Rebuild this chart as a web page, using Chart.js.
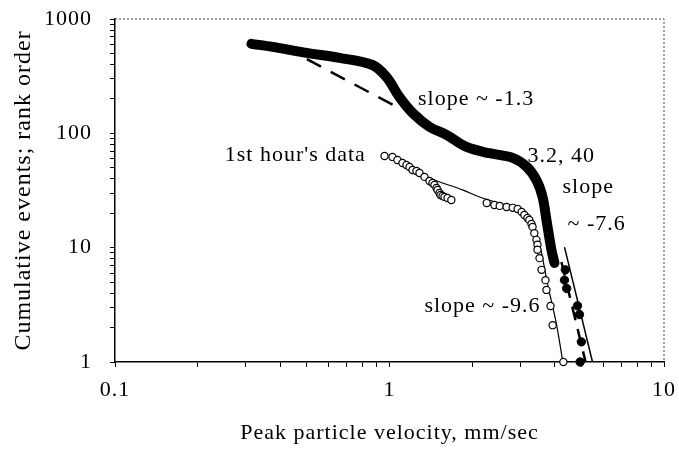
<!DOCTYPE html>
<html>
<head>
<meta charset="utf-8">
<script src="https://cdn.jsdelivr.net/npm/chart.js@4"></script>
<style>
  html, body { margin: 0; padding: 0; background: #fff; }
  #wrap { width: 679px; height: 452px; }
</style>
</head>
<body>
<div id="wrap"><canvas id="ppvChart"></canvas></div>
<script>
// all events, rank order (dense part drawn as a thick band)
let bandVel   = [0.314, 0.375, 0.499, 0.658, 0.867, 0.975, 1.087, 1.213, 1.399, 1.613, 1.908, 2.31, 2.81, 3.16, 3.43, 3.61, 3.73, 3.89, 3.99]
let bandCount = [606, 570, 505, 457, 396, 311, 208, 151, 114, 97, 76, 67, 61, 51, 39, 27.8, 17.5, 9.55, 7.35]

// all events, last few ranks
let tailVel   = [4.37, 4.34, 4.42, 4.84, 4.92, 5.0, 4.95]
let tailCount = [6.4, 5.2, 4.4, 3.1, 2.6, 1.5, 1]

// 1st hour's data
let hourVel   = [0.959, 1.025, 1.069, 1.115, 1.153, 1.183, 1.213, 1.254, 1.286, 1.341, 1.399, 1.434, 1.458, 1.483, 1.496, 1.521, 1.534, 1.560, 1.586, 1.627, 1.680,
                 2.26, 2.41, 2.52, 2.67, 2.81, 2.93, 3.03, 3.10, 3.18, 3.23, 3.29, 3.32, 3.37, 3.43, 3.46, 3.46, 3.52, 3.58, 3.70, 3.73, 3.86, 3.93, 4.30]
let hourCount = [63.4, 62.2, 58.5, 55.1, 52.9, 50.8, 47.8, 46.9, 45.0, 41.6, 38.3, 36.8, 35.4, 33.3, 32.0, 30.1, 28.9, 28.3, 27.8, 27.2, 26.1,
                 24.6, 23.6, 23.2, 22.7, 22.3, 21.8, 20.5, 19.3, 18.2, 17.5, 16.1, 15.2, 13.4, 11.7, 10.6, 9.6, 8.1, 6.4, 5.2, 4.27, 3.09, 2.1, 1]

// smooth curve through the 1st hour's data
let hourFitVel   = [1.087, 1.399, 1.845, 2.18, 2.67, 3.05, 3.29, 3.43, 3.58, 3.76, 4.05, 4.27]
let hourFitCount = [56, 40.7, 32, 27.2, 23.6, 21.4, 17.5, 13.4, 9.0, 4.9, 2.19, 1.04]

// slope lines
let slopeAVel = [0.50, 1.09],  slopeACount = [445, 165]   // ~ -1.3
let slopeBVel = [4.34, 5.49],  slopeBCount = [10.1, 1]    // ~ -7.6
let slopeCVel = [4.23, 5.18],  slopeCCount = [7.5, 1]     // dashed, tail

let notes = [
  { text: 'slope ~ -1.3',    x: 1.27, y: 177 },
  { text: "1st hour's data", x: 0.251, y: 57.3 },
  { text: '3.2, 40',         x: 3.18, y: 56 },
  { text: 'slope',           x: 4.27, y: 30.1 },
  { text: '~ -7.6',          x: 4.45, y: 14.3 },
  { text: 'slope ~ -9.6',    x: 1.34, y: 2.74 }
]

function pts(xs, ys) {
  return xs.map((x, i) => ({ x: x, y: ys[i] }))
}

const serif = '"Liberation Serif", "Times New Roman", serif'

// labels only on the decades
function decadeLabel(value) {
  let l = Math.log10(value)
  return Math.abs(l - Math.round(l)) < 1e-9 ? String(value) : ''
}

function logTicks(min, max) {
  let t = []
  for (let d = min; d < max * 0.999; d *= 10) {
    for (let m = 1; m < 10; m++) t.push({ value: +(d * m).toPrecision(6) })
  }
  t.push({ value: max })
  return t
}

const annotate = {
  id: 'annotate',
  beforeDraw(chart) {
    chart.ctx.letterSpacing = '1px'
  },
  afterDatasetsDraw(chart) {
    const c = chart.ctx, xs = chart.scales.x, ys = chart.scales.y, a = chart.chartArea
    c.save()
    c.font = '22px ' + serif
    c.fillStyle = '#000'
    c.textBaseline = 'alphabetic'
    notes.forEach(n => c.fillText(n.text, xs.getPixelForValue(n.x), ys.getPixelForValue(n.y)))
    // dotted frame on top and right
    c.strokeStyle = '#444'
    c.lineWidth = 1
    c.setLineDash([2, 2])
    c.beginPath()
    c.moveTo(a.left, a.top)
    c.lineTo(a.right, a.top)
    c.lineTo(a.right, a.bottom)
    c.stroke()
    c.restore()
  }
}

var ctx = document.getElementById('ppvChart')

new Chart(ctx, {
  type: 'scatter',
  data: {
    datasets: [{
      data: pts(hourVel, hourCount),
      backgroundColor: '#fff',
      borderColor: '#000',
      borderWidth: 1.2,
      pointRadius: 3.6,
      clip: false,
      order: 1
    }, {
      data: pts(tailVel, tailCount),
      backgroundColor: '#000',
      borderColor: '#000',
      pointRadius: 4.2,
      clip: false,
      order: 2
    }, {
      data: pts(bandVel, bandCount),
      showLine: true,
      borderColor: '#000',
      borderWidth: 10,
      borderCapStyle: 'round',
      borderJoinStyle: 'round',
      tension: 0.35,
      pointRadius: 0,
      order: 3
    }, {
      data: pts(hourFitVel, hourFitCount),
      showLine: true,
      borderColor: '#000',
      borderWidth: 1.2,
      tension: 0.35,
      pointRadius: 0,
      order: 4
    }, {
      data: pts(slopeAVel, slopeACount),
      showLine: true,
      borderColor: '#000',
      borderWidth: 2.5,
      borderDash: [16, 11],
      pointRadius: 0,
      order: 5
    }, {
      data: pts(slopeBVel, slopeBCount),
      showLine: true,
      borderColor: '#000',
      borderWidth: 1.5,
      pointRadius: 0,
      order: 5
    }, {
      data: pts(slopeCVel, slopeCCount),
      showLine: true,
      borderColor: '#000',
      borderWidth: 2.5,
      borderDash: [14, 9],
      pointRadius: 0,
      order: 5
    }]
  },
  options: {
    responsive: true,
    maintainAspectRatio: false,
    animation: false,
    events: [],
    layout: { padding: { top: 19, right: 15, left: 0, bottom: 0 } },
    plugins: {
      legend: { display: false },
      tooltip: { enabled: false }
    },
    scales: {
      x: {
        type: 'logarithmic',
        min: 0.1,
        max: 10,
        afterBuildTicks: s => { s.ticks = logTicks(0.1, 10) },
        afterFit: s => { s.height = 90; s.paddingLeft = 0; s.paddingRight = 0 },
        border: { color: '#000', width: 1.5 },
        grid: { drawOnChartArea: false, color: '#000', tickLength: 5, tickWidth: 1 },
        ticks: {
          autoSkip: false,
          maxRotation: 0,
          padding: 10,
          color: '#000',
          font: { family: serif, size: 22 },
          callback: decadeLabel
        },
        title: {
          display: true,
          text: 'Peak particle velocity, mm/sec',
          color: '#000',
          font: { family: serif, size: 22 },
          padding: { top: 0, bottom: 6 }
        }
      },
      y: {
        type: 'logarithmic',
        min: 1,
        max: 1000,
        afterBuildTicks: s => { s.ticks = logTicks(1, 1000) },
        afterFit: s => { s.width = 115; s.paddingTop = 0; s.paddingBottom = 0 },
        border: { color: '#000', width: 1.5 },
        grid: { drawOnChartArea: false, color: '#000', tickLength: 5, tickWidth: 1 },
        ticks: {
          autoSkip: false,
          padding: 18,
          color: '#000',
          font: { family: serif, size: 22 },
          callback: decadeLabel
        },
        title: {
          display: true,
          text: 'Cumulative events; rank order',
          color: '#000',
          font: { family: serif, size: 24 },
          padding: { top: 9, bottom: 0 }
        }
      }
    }
  },
  plugins: [annotate]
});
</script>
</body>
</html>
